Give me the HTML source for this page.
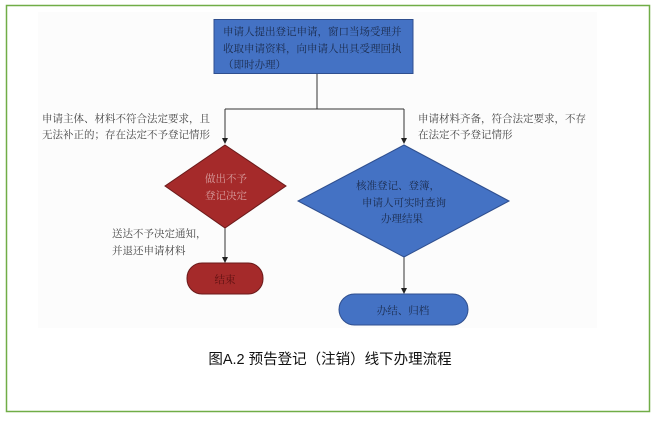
<!DOCTYPE html>
<html><head><meta charset="utf-8"><style>
body{margin:0;background:#fff;}
svg text{font-family:"Liberation Serif","Noto Serif CJK SC",serif;}
</style></head><body>
<svg width="657" height="420" viewBox="0 0 657 420" xmlns="http://www.w3.org/2000/svg">
<rect x="6.5" y="5.5" width="643" height="406" fill="#fff" stroke="#70ad47" stroke-width="1.5"/>
<rect x="38" y="12" width="559" height="316" fill="#fcfcfc"/>
<defs><marker id="a" markerWidth="6" markerHeight="6" refX="5" refY="3" orient="auto"><path d="M0,0 L6,3 L0,6z" fill="#222"/></marker></defs>
<rect x="214" y="19.5" width="199" height="54" fill="#4472c4" stroke="#2f4f8f" stroke-width="1"/>
<g font-size="10.5" fill="#1a2a4a">
<text x="223" y="35">申请人提出登记申请，窗口当场受理并</text>
<text x="223" y="52">收取申请资料，向申请人出具受理回执</text>
<text x="223" y="68">（即时办理）</text>
</g>
<g stroke="#333" stroke-width="1" fill="none">
<path d="M317 74 V109 M225 109 H404"/>
<path d="M225 109 V143" marker-end="url(#a)"/>
<path d="M404 109 V143" marker-end="url(#a)"/>
<path d="M225 228 V262" marker-end="url(#a)"/>
<path d="M404 257 V293" marker-end="url(#a)"/>
</g>
<polygon points="225,145 286,186 225,228 165,186" fill="#a52a2a" stroke="#6b1a1a"/>
<polygon points="404,145 509,201 404,257 298,201" fill="#4472c4" stroke="#2f4f8f"/>
<rect x="187" y="263" width="76" height="31" rx="15" fill="#a52a2a" stroke="#6b1a1a"/>
<rect x="339" y="294" width="129" height="31" rx="15.5" fill="#4472c4" stroke="#2f4f8f"/>
<g font-size="10.5" text-anchor="middle">
<text x="226" y="182" fill="#d8a0a0">做出不予</text>
<text x="226" y="199" fill="#d8a0a0">登记决定</text>
<text x="398" y="189" fill="#1a2a4a">核准登记、登簿，</text>
<text x="404" y="206" fill="#1a2a4a">申请人可实时查询</text>
<text x="402" y="222" fill="#1a2a4a">办理结果</text>
<text x="225" y="283" fill="#5a1010">结束</text>
<text x="403" y="314" fill="#1a2a4a">办结、归档</text>
</g>
<g font-size="10.5" fill="#444">
<text x="42" y="122">申请主体、材料不符合法定要求，且</text>
<text x="42" y="138">无法补正的；存在法定不予登记情形</text>
<text x="418" y="122">申请材料齐备，符合法定要求，不存</text>
<text x="418" y="138">在法定不予登记情形</text>
<text x="112" y="237">送达不予决定通知，</text>
<text x="112" y="254">并退还申请材料</text>
</g>
<text x="330" y="364" font-size="14.5" text-anchor="middle" fill="#111" style="font-family:'Liberation Sans Narrow','Liberation Sans','Noto Sans CJK SC',sans-serif">图A.2 预告登记（注销）线下办理流程</text>
</svg>
</body></html>
